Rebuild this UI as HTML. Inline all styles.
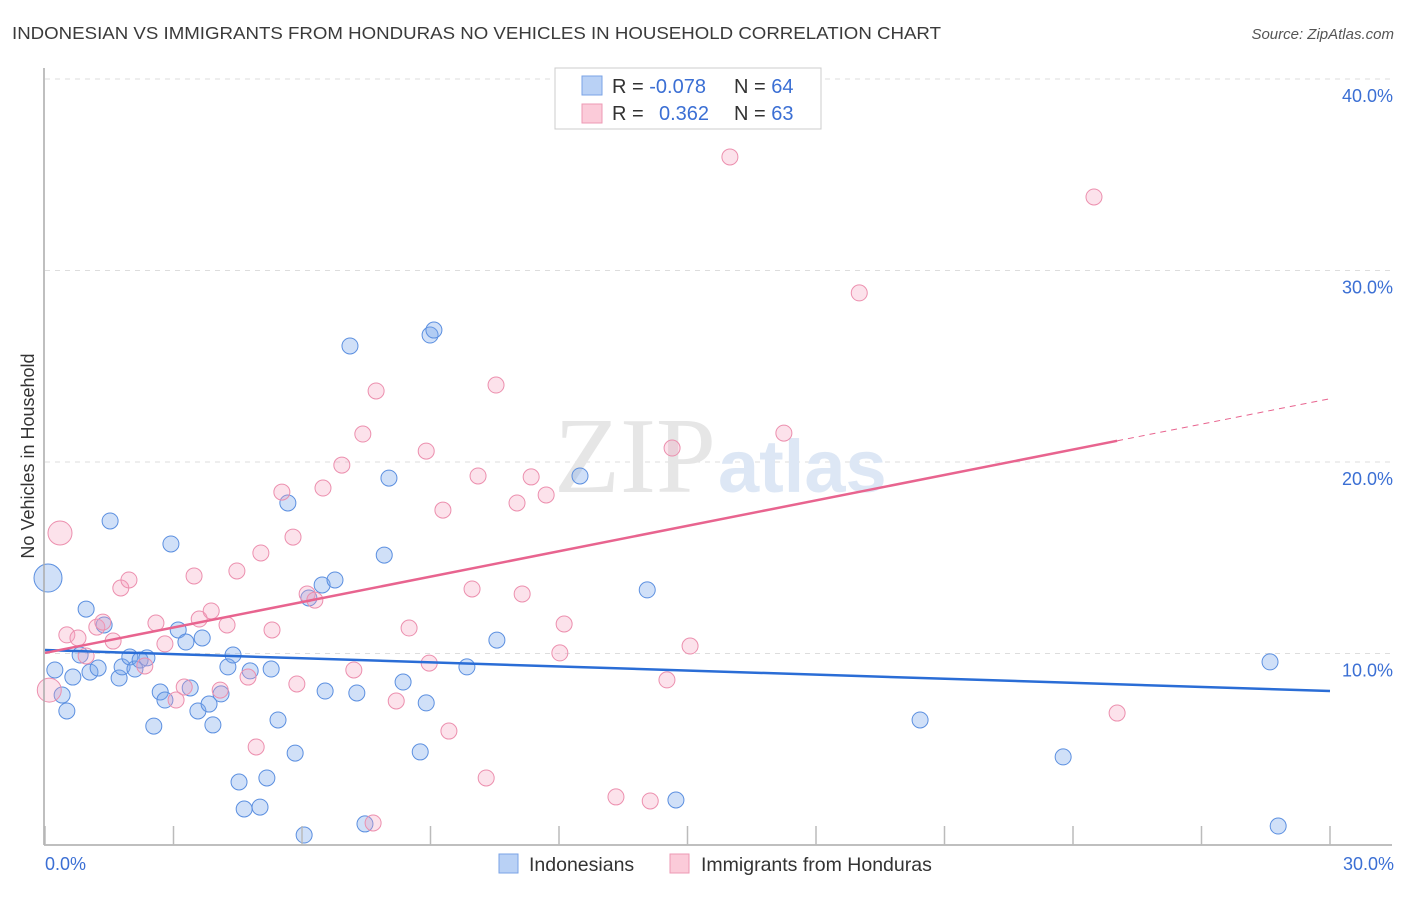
<!DOCTYPE html>
<html><head><meta charset="utf-8"><style>
body{margin:0;background:#fff;font-family:"Liberation Sans",sans-serif}
</style></head><body>
<svg width="1406" height="892" viewBox="0 0 1406 892" xmlns="http://www.w3.org/2000/svg">
<text x="12" y="39" font-size="17.5" fill="#3a3a3a" textLength="929" lengthAdjust="spacingAndGlyphs">INDONESIAN VS IMMIGRANTS FROM HONDURAS NO VEHICLES IN HOUSEHOLD CORRELATION CHART</text>
<text x="1394" y="39" font-size="15" fill="#555" font-style="italic" text-anchor="end">Source: ZipAtlas.com</text>
<text x="0" y="0" transform="translate(34,456) rotate(-90)" font-size="18" fill="#333" text-anchor="middle">No Vehicles in Household</text>
<g id="grid"></g>
<text x="716" y="492" font-size="108" fill="#e6e6e6" text-anchor="end" font-family="Liberation Serif,serif">ZIP</text>
<text x="718" y="492" font-size="74" fill="#dde7f5" font-weight="bold">atlas</text>
<g id="points"></g>
<g id="trends"></g>
<line x1="44" y1="68" x2="44" y2="845" stroke="#aaa" stroke-width="1.5"/>
<line x1="44" y1="845" x2="1392" y2="845" stroke="#aaa" stroke-width="1.5"/>
<g id="xticks"></g>
<text x="45" y="870" font-size="18" fill="#3b6fd4">0.0%</text>
<text x="1394" y="870" font-size="18" fill="#3b6fd4" text-anchor="end">30.0%</text>
<g>
<rect x="555" y="68" width="266" height="61" fill="#fff" stroke="#ccc"/>
<rect x="582" y="76" width="20" height="19" fill="#b9d1f5" stroke="#7aa3e6"/>
<rect x="582" y="104" width="20" height="19" fill="#fbcbd9" stroke="#ee9ab4"/>
<text x="612" y="93" font-size="20" fill="#333">R = <tspan fill="#3b6fd4">-0.078</tspan></text>
<text x="734" y="93" font-size="20" fill="#333">N = <tspan fill="#3b6fd4">64</tspan></text>
<text x="612" y="120" font-size="20" fill="#333">R = <tspan fill="#3b6fd4" x="659">0.362</tspan></text>
<text x="734" y="120" font-size="20" fill="#333">N = <tspan fill="#3b6fd4">63</tspan></text>
</g>
<g>
<rect x="499" y="854" width="19" height="19" fill="#b9d1f5" stroke="#7aa3e6"/>
<text x="529" y="871" font-size="19.5" fill="#333">Indonesians</text>
<rect x="670" y="854" width="19" height="19" fill="#fbcbd9" stroke="#ee9ab4"/>
<text x="701" y="871" font-size="19.5" fill="#333">Immigrants from Honduras</text>
</g>
</svg>
<script>
const yTicks=[10,20,30,40];
const yTickLabels=["10.0%","20.0%","30.0%","40.0%"];
const xTickVals=[0,3,6,9,12,15,18,21,24,27,30];
const blueX=[0.07,0.23,0.40,0.51,0.65,0.82,0.96,1.05,1.24,1.38,1.52,1.73,1.80,1.98,2.10,2.22,2.38,2.54,2.69,2.80,2.94,3.11,3.29,3.39,3.57,3.67,3.83,3.92,4.11,4.27,4.39,4.53,4.65,4.79,5.02,5.18,5.28,5.44,5.67,5.84,6.05,6.16,6.47,6.54,6.77,7.12,7.28,7.47,7.92,8.03,8.36,8.76,8.90,8.99,9.08,9.85,10.55,12.49,14.06,14.73,20.43,23.77,28.60,28.79];
const blueY=[13.94,9.14,7.83,7.00,8.77,9.92,12.32,9.03,9.24,11.49,16.92,8.72,9.30,9.82,9.19,9.66,9.77,6.21,7.99,7.57,15.72,11.23,10.60,8.20,7.00,10.81,7.36,6.27,7.89,9.30,9.92,3.29,1.88,9.09,1.98,3.50,9.19,6.53,17.86,4.80,0.52,12.90,13.58,8.04,13.84,26.06,7.94,1.10,15.14,19.16,8.51,4.86,7.42,26.63,26.89,9.30,10.70,19.27,13.32,2.35,6.53,4.60,9.56,0.99];
const pinkX=[0.35,0.10,0.51,0.77,0.96,1.21,1.35,1.59,1.77,1.96,2.33,2.59,2.80,3.06,3.25,3.48,3.60,3.88,4.09,4.25,4.48,4.74,4.93,5.04,5.30,5.53,5.79,5.88,6.12,6.30,6.49,6.93,7.21,7.42,7.66,7.73,8.20,8.50,8.90,8.97,9.29,9.43,9.97,10.11,10.30,10.53,11.02,11.14,11.35,11.70,12.02,12.12,13.33,14.13,14.52,14.64,15.06,15.99,17.25,19.01,24.49,25.03];
const pinkY=[16.29,8.09,10.97,10.81,9.87,11.38,11.64,10.65,13.42,13.84,9.35,11.59,10.50,7.57,8.25,14.05,11.80,12.22,8.09,11.49,14.31,8.77,5.12,15.25,11.23,18.43,16.08,8.41,13.11,12.79,18.64,19.84,9.14,21.46,1.15,23.71,7.52,11.33,20.57,9.50,17.49,5.95,13.37,19.27,3.50,24.02,17.86,13.11,19.22,18.28,10.03,11.54,2.51,2.30,8.62,20.73,10.39,35.93,21.51,28.83,33.84,6.89];
const blueTrend=[10.18,8.04];   // value at x=0 and x=30
const pinkTrend=[10.03,0.4425]; // intercept, slope
const pinkSolidEnd=25.03;
const X=v=>45+v*(1285/30), Y=v=>845-v*19.15;
const NS="http://www.w3.org/2000/svg";
function mk(t,a,p){const e=document.createElementNS(NS,t);for(const k in a)e.setAttribute(k,a[k]);document.getElementById(p).appendChild(e);return e;}
yTicks.forEach((v,i)=>{
 const l=mk('line',{x1:45,x2:1392,y1:Y(v),y2:Y(v),stroke:'#ddd','stroke-dasharray':'5,5'},'grid');
 
 
 const t=mk('text',{x:1393,y:Y(v)+23,'font-size':18,fill:'#3b6fd4','text-anchor':'end'},'grid');
 t.textContent=yTickLabels[i];
 
 
});
xTickVals.forEach(v=>{
 const l=mk('line',{x1:X(v),x2:X(v),y1:826,y2:845,stroke:'#bbb','stroke-width':1.5},'xticks');
 
 
});
blueX.forEach((x,i)=>{
 const c=mk('circle',{cx:X(x),cy:Y(blueY[i]),r:i===0?14:8,fill:'rgba(120,165,235,0.35)',stroke:'#5b8fe0','stroke-width':1},'points');
 
 
});
pinkX.forEach((x,i)=>{
 const c=mk('circle',{cx:X(x),cy:Y(pinkY[i]),r:i<2?12:8,fill:'rgba(245,160,190,0.3)',stroke:'#ec8fae','stroke-width':1},'points');
 
 
});
let l=mk('line',{x1:X(0),y1:Y(blueTrend[0]),x2:X(30),y2:Y(blueTrend[1]),stroke:'#2a6dd6','stroke-width':2.5},'trends');


l=mk('line',{x1:X(0),y1:Y(pinkTrend[0]),x2:X(pinkSolidEnd),y2:Y(pinkTrend[0]+pinkTrend[1]*pinkSolidEnd),stroke:'#e8648f','stroke-width':2.5},'trends');


l=mk('line',{x1:X(pinkSolidEnd),y1:Y(pinkTrend[0]+pinkTrend[1]*pinkSolidEnd),x2:X(30),y2:Y(pinkTrend[0]+pinkTrend[1]*30),stroke:'#e8648f','stroke-width':1,'stroke-dasharray':'6,5'},'trends');


</script>
</body></html>
